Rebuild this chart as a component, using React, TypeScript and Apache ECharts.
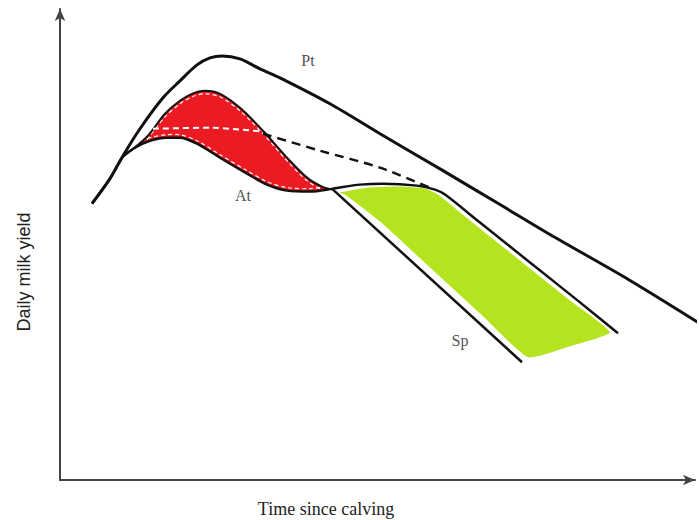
import React, { useEffect, useRef } from "react";
import * as echarts from "echarts";

// Time since calving (days) / daily milk yield (kg) – conceptual values
const ptX = [16, 25, 31.5, 40, 51.5, 60, 68.5, 75, 81, 90, 100, 110, 135, 160, 191.5, 220, 245, 285, 319];
const ptY = [27.7, 30.2, 32.5, 35.2, 38.3, 40.0, 41.6, 42.3, 42.5, 42.2, 41.2, 40.3, 37.7, 34.7, 31.0, 27.6, 24.6, 20.0, 15.8];

const atX = [16, 25, 31.5, 37.5, 45, 53.5, 60, 68.5, 80, 93.5, 103.5, 113.5, 125, 136.5, 150, 161.5, 178.5, 187.5, 192.5, 210, 235, 260, 279];
const atY = [27.7, 30.2, 32.4, 33.3, 34.0, 34.3, 34.3, 33.7, 32.3, 30.7, 29.6, 29.0, 28.9, 29.2, 29.6, 29.7, 29.5, 29.1, 28.6, 25.8, 21.8, 17.8, 14.7];

const upX = [31.5, 43.5, 52.5, 60, 66, 72.5, 80, 90, 101.5, 113.5, 123.5, 131, 136.5];
const upY = [32.4, 34.4, 36.7, 38.0, 38.7, 39.0, 38.7, 37.3, 35.0, 32.3, 30.3, 29.4, 29.1];

const spX = [136.5, 231];
const spY = [29.1, 11.8];

const whiteDashX = [46.5, 75, 101.5];
const whiteDashY = [35.2, 35.3, 34.9];
const blackDashX = [101.5, 130, 160, 186];
const blackDashY = [34.7, 33.0, 31.3, 29.2];

const greenX = [140, 155, 170, 182.5, 189, 205, 230, 255, 275, 255, 234, 210, 185, 160, 142.5];
const greenY = [28.8, 29.3, 29.4, 29.2, 28.6, 26.0, 22.0, 18.0, 14.8, 13.4, 12.3, 16.7, 21.3, 25.9, 28.6];

const labelNames = ["Pt", "At", "Sp"];
const labelX = [124, 91.5, 200];
const labelY = [42.0, 28.5, 14.0];

const xTitle = "Time since calving";
const yTitle = "Daily milk yield";

const pairs = (xs: number[], ys: number[]) => xs.map((x, i) => [x, ys[i]]);

export default function App() {
  const ref = useRef<HTMLDivElement>(null);
  useEffect(() => {
    if (!ref.current) return;
    const chart = echarts.init(ref.current, undefined, { renderer: "svg" });

    const lowX: number[] = [];
    const lowY: number[] = [];
    atX.forEach((x, i) => {
      if (x >= upX[0] && x <= upX[upX.length - 1]) {
        lowX.push(x);
        lowY.push(atY[i]);
      }
    });

    const lineCommon = {
      type: "line" as const,
      showSymbol: false,
      symbol: "none",
      smooth: 0.3,
      z: 3,
      silent: true,
      clip: false,
    };

    chart.setOption({
      animation: false,
      backgroundColor: "#ffffff",
      grid: { left: 60, right: 4, top: 9, bottom: 40 },
      xAxis: {
        type: "value",
        min: 0,
        max: 317.5,
        axisLine: {
          show: true,
          symbol: ["none", "arrow"],
          symbolSize: [8, 12],
          lineStyle: { color: "#444", width: 2 },
        },
        axisTick: { show: false },
        axisLabel: { show: false },
        splitLine: { show: false },
      },
      yAxis: {
        type: "value",
        min: 0,
        max: 47.2,
        axisLine: {
          show: true,
          symbol: ["none", "arrow"],
          symbolSize: [8, 12],
          lineStyle: { color: "#444", width: 2 },
        },
        axisTick: { show: false },
        axisLabel: { show: false },
        splitLine: { show: false },
      },
      graphic: [
        {
          type: "text",
          x: 326,
          y: 509,
          style: {
            text: xTitle,
            font: "18px 'Liberation Serif', serif",
            fill: "#222",
            align: "center",
            verticalAlign: "middle",
          },
        },
        {
          type: "text",
          x: 24,
          y: 272,
          rotation: Math.PI / 2,
          style: {
            text: yTitle,
            font: "18px 'Liberation Sans', Arial, sans-serif",
            fill: "#222",
            align: "center",
            verticalAlign: "middle",
          },
        },
      ],
      series: [
        {
          type: "custom",
          name: "Green area",
          z: 1,
          silent: true,
          data: [[greenX[0], greenY[0]]],
          renderItem: (_p: any, api: any) => ({
            type: "polygon",
            shape: { points: greenX.map((x, i) => api.coord([x, greenY[i]])), smooth: 0.15 },
            style: { fill: "#b4e31f" },
          }),
        },
        {
          type: "custom",
          name: "Red area",
          z: 1,
          silent: true,
          data: [[upX[0], upY[0]]],
          renderItem: (_p: any, api: any) => {
            const top = upX.map((x, i) => api.coord([x, upY[i]]));
            const bottom = lowX.map((x, i) => api.coord([x, lowY[i]]));
            const poly = top.concat(bottom.slice().reverse());
            return {
              type: "group",
              children: [
                {
                  type: "polygon",
                  shape: { points: poly, smooth: 0.3 },
                  style: { fill: "#ec1b23" },
                },
                {
                  type: "polyline",
                  shape: { points: top.slice(1).map((p: number[]) => [p[0], p[1] + 3]), smooth: 0.3 },
                  style: { stroke: "#ffffff", lineWidth: 1.2, lineDash: [4, 3], fill: "none" },
                },
                {
                  type: "polyline",
                  shape: { points: bottom.slice(1).map((p: number[]) => [p[0], p[1] - 3]), smooth: 0.3 },
                  style: { stroke: "#ffffff", lineWidth: 1.2, lineDash: [4, 3], fill: "none" },
                },
              ],
            };
          },
        },
        {
          ...lineCommon,
          name: "Pt",
          data: pairs(ptX, ptY),
          lineStyle: { color: "#111", width: 3 },
        },
        {
          ...lineCommon,
          name: "At",
          data: pairs(atX, atY),
          lineStyle: { color: "#111", width: 2.5 },
        },
        {
          ...lineCommon,
          name: "Upper",
          data: pairs(upX, upY),
          lineStyle: { color: "#111", width: 2 },
        },
        {
          ...lineCommon,
          name: "Sp",
          smooth: false,
          data: pairs(spX, spY),
          lineStyle: { color: "#111", width: 2.5 },
        },
        {
          ...lineCommon,
          name: "Dashed white",
          data: pairs(whiteDashX, whiteDashY),
          lineStyle: { color: "#ffffff", width: 2, type: [6, 4] },
        },
        {
          ...lineCommon,
          name: "Dashed",
          data: pairs(blackDashX, blackDashY),
          lineStyle: { color: "#111", width: 2.5, type: [9, 6] },
        },
        {
          type: "scatter",
          name: "Labels",
          z: 4,
          silent: true,
          symbolSize: 1,
          itemStyle: { color: "rgba(0,0,0,0)" },
          data: labelNames.map((n, i) => ({ name: n, value: [labelX[i], labelY[i]] })),
          label: {
            show: true,
            position: "inside",
            formatter: "{b}",
            fontFamily: "'Liberation Serif', serif",
            fontSize: 16,
            color: "#222",
          },
        },
      ],
    });
    return () => chart.dispose();
  }, []);
  return <div ref={ref} style={{ width: 699, height: 520, position: "absolute", left: 0, top: 0 }} />;
}
